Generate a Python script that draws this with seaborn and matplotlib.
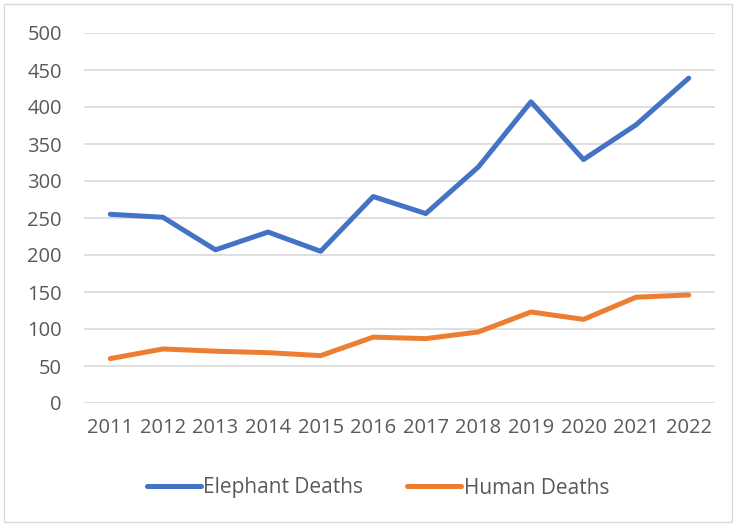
import pandas as pd
import matplotlib.pyplot as plt
import seaborn as sns
from matplotlib.patches import Rectangle

years = [2011, 2012, 2013, 2014, 2015, 2016, 2017, 2018, 2019, 2020, 2021, 2022]
elephant_deaths = [255, 251, 207, 231, 205, 279, 256, 319, 407, 329, 376, 439]
human_deaths = [60, 73, 70, 68, 64, 89, 87, 96, 123, 113, 143, 146]
series_names = ["Elephant Deaths", "Human Deaths"]
y_ticks = [0, 50, 100, 150, 200, 250, 300, 350, 400, 450, 500]

df = pd.DataFrame({
    "year": [str(y) for y in years] * 2,
    "deaths": elephant_deaths + human_deaths,
    "series": [series_names[0]] * len(years) + [series_names[1]] * len(years),
})

sns.set_theme(style="white")
plt.rcParams["font.family"] = ["Open Sans", "DejaVu Sans"]
text_color = "#595959"

fig = plt.figure(figsize=(7.35, 5.24), dpi=100)
ax = fig.add_axes([84 / 735, 1 - 403 / 524, (715 - 84) / 735, (403 - 33) / 524])

sns.lineplot(
    data=df, x="year", y="deaths", hue="series",
    palette={series_names[0]: "#4472C4", series_names[1]: "#ED7D31"},
    linewidth=3.6, sort=False, ax=ax, legend=True,
)
for line in ax.lines:
    line.set_solid_capstyle("round")
    line.set_solid_joinstyle("round")

ax.set_xlim(-0.5, len(years) - 0.5)
ax.set_ylim(0, 500)
ax.set_yticks(y_ticks)
ax.grid(axis="y", color="#D9D9D9", linewidth=1.2)
ax.set_axisbelow(True)
for s in ax.spines.values():
    s.set_visible(False)
ax.set_xlabel("")
ax.set_ylabel("")
ax.tick_params(axis="both", length=0, labelsize=14.5, labelcolor=text_color)
ax.tick_params(axis="y", pad=16)
ax.tick_params(axis="x", pad=11)

handles, labels = ax.get_legend_handles_labels()
for h in handles:
    h.set_linewidth(3.6)
    h.set_solid_capstyle("round")
leg = fig.legend(
    handles, labels, loc="center", bbox_to_anchor=(378 / 735, 1 - 488 / 524),
    ncol=2, frameon=False, fontsize=15, handlelength=2.6, handletextpad=0.12,
    columnspacing=2.1,
)
for t in leg.get_texts():
    t.set_color(text_color)
ax.get_legend().remove()

fig.patches.append(Rectangle((4 / 735, 2 / 524), 728 / 735, 518 / 524,
                             transform=fig.transFigure, fill=False,
                             edgecolor="#D9D9D9", linewidth=1))

fig.savefig("out.png", dpi=100)
